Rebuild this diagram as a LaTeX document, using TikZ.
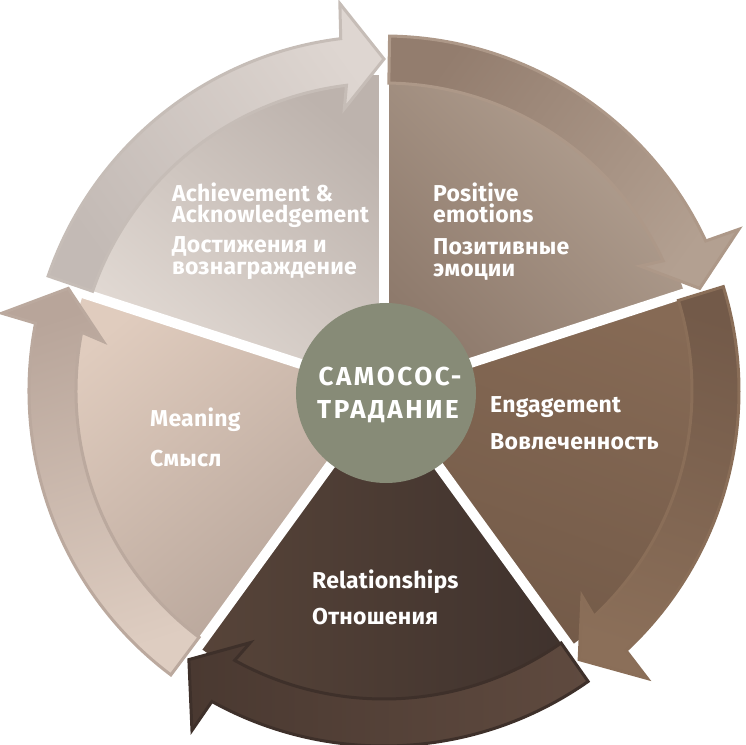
\documentclass[tikz,border=0pt]{standalone}
\usepackage{fontspec}
\setmainfont{Fira Sans}
\usetikzlibrary{calc}
\definecolor{achA}{HTML}{BDB3AD}\definecolor{achB}{HTML}{E3DBD5}
\definecolor{achT}{HTML}{C3BAB5}\definecolor{achH}{HTML}{DED6D1}\definecolor{achO}{HTML}{C6BDB7}
\definecolor{peA}{HTML}{B4A293}\definecolor{peB}{HTML}{8D796B}
\definecolor{peT}{HTML}{937D6E}\definecolor{peH}{HTML}{B3A091}\definecolor{peO}{HTML}{AD9888}
\definecolor{engA}{HTML}{866A55}\definecolor{engB}{HTML}{735A48}
\definecolor{engT}{HTML}{735A49}\definecolor{engH}{HTML}{8B6F59}\definecolor{engO}{HTML}{8A6E58}
\definecolor{relA}{HTML}{574439}\definecolor{relB}{HTML}{3F322D}
\definecolor{relT}{HTML}{5F4A3F}\definecolor{relH}{HTML}{4A3931}\definecolor{relO}{HTML}{3E302A}
\definecolor{meaA}{HTML}{E0CCBE}\definecolor{meaB}{HTML}{B5A398}
\definecolor{meaT}{HTML}{DECDC1}\definecolor{meaH}{HTML}{B8A59A}\definecolor{meaO}{HTML}{BBA99E}
\definecolor{core}{HTML}{878B77}
\newcommand\Rin{308}
\newcommand\Rout{355}
\newcommand\Rsl{316}
% #1 start gap angle, #2 end gap angle, #3 style
\newcommand\arrowband[3]{%
  \path[#3] (#1-0.9:\Rin) -- (#1-0.9:\Rout)
    arc[start angle=#1-0.9, end angle=#2+7, radius=\Rout]
    -- (#2+6.5:390) -- (#2:332) -- (#2+8:285) -- (#2+7:\Rin)
    arc[start angle=#2+7, end angle=#1-0.9, radius=\Rin] -- cycle;}
\newcommand\slice[3]{%
  \path[#3] (0,0) -- (#1:\Rsl) arc[start angle=#1, end angle=#2, radius=\Rsl] -- cycle;}
\begin{document}
\begin{tikzpicture}[x=1pt,y=1pt,
  tx/.style={text=white, font=\fontsize{23}{27}\selectfont\bfseries\addfontfeatures{LetterSpace=1}, inner sep=0pt, anchor=base west},
  ctx/.style={text=white, font=\fontsize{26}{30}\selectfont\bfseries\addfontfeatures{LetterSpace=10}, inner sep=0pt, anchor=base},
  band/.style={line width=3pt, line join=miter}]
\useasboundingbox (-384,-353) rectangle (362,391);
% slices
\slice{90}{18}{top color=peA, bottom color=peB, shading angle=-45}
\slice{18}{-54}{top color=engA, bottom color=engB, shading angle=-20}
\slice{-54}{-126}{left color=relA, right color=relB}
\slice{-126}{-198}{top color=meaA, bottom color=meaB, shading angle=40}
\slice{162}{90}{top color=achA, bottom color=achB, shading angle=-40}
% gaps
\foreach \a in {90,18,-54,-126,162}
  \draw[white, line width=10pt] (0,0) -- (\a:\Rsl+6);
% arrow bands
\arrowband{90}{18}{band, draw=peO, top color=peT, bottom color=peH, shading angle=54}
\arrowband{18}{-54}{band, draw=engO, top color=engT, bottom color=engH, shading angle=-18}
\arrowband{-54}{-126}{band, draw=relO, top color=relT, bottom color=relH, shading angle=-90}
\arrowband{-126}{-198}{band, draw=meaO, top color=meaT, bottom color=meaH, shading angle=-162}
\arrowband{162}{90}{band, draw=achO, top color=achT, bottom color=achH, shading angle=126}
% centre
\node[circle, fill=core, minimum size=180pt, inner sep=0pt] (corecirc) at (2,-2) {};
\node[ctx] (c1) at (6,6) {САМОСОС-};
\node[ctx] (c2) at (4,-27) {ТРАДАНИЕ};
% labels
\node[tx] (ach1) at (-212,189) {Achievement \&};
\node[tx] (ach2) at (-212,168) {Acknowledgement};
\node[tx] (ach3) at (-212,138) {Достижения и};
\node[tx] (ach4) at (-212,116) {вознаграждение};
\node[tx] (pe1) at (49,189) {Positive};
\node[tx] (pe2) at (49,168) {emotions};
\node[tx] (pe3) at (49,136) {Позитивные};
\node[tx] (pe4) at (49,114) {эмоции};
\node[tx] (eng1) at (106,-21) {Engagement};
\node[tx] (eng2) at (106,-58) {Вовлеченность};
\node[tx] (mea1) at (-234,-35) {Meaning};
\node[tx] (mea2) at (-234,-75) {Смысл};
\node[tx] (rel1) at (-72,-197) {Relationships};
\node[tx] (rel2) at (-72,-233) {Отношения};
\end{tikzpicture}
\end{document}
